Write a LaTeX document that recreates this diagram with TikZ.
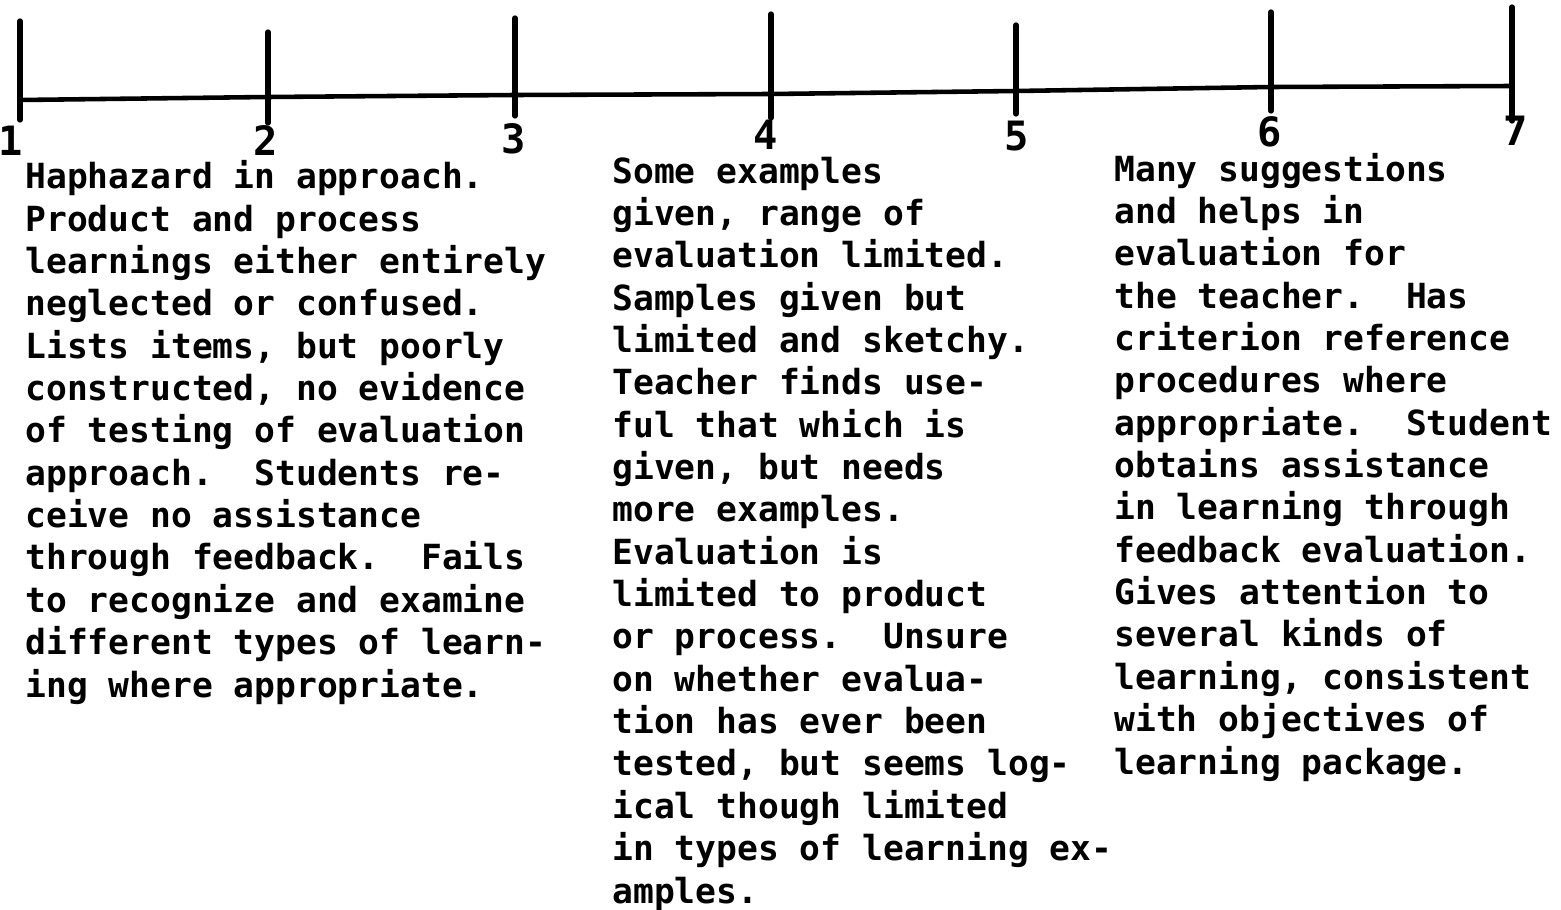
\documentclass[tikz,border=0pt]{standalone}
\usepackage{fontspec}
\setmonofont{DejaVu Sans Mono}
\usetikzlibrary{positioning}

\tikzset{
  tick/.style={line width=3pt, line cap=round},
  axisline/.style={line width=2.6pt},
  num/.style={font=\ttfamily\bfseries\fontsize{23pt}{26pt}\selectfont, inner sep=0pt},
  desc/.style={font=\ttfamily\bfseries\frenchspacing\fontsize{19.7pt}{24.1pt}\selectfont, align=left, inner sep=0pt, anchor=base west}
}

\begin{document}
\begin{tikzpicture}[x=0.02cm, y=-0.02cm]
            \useasboundingbox (0,0) rectangle (1561,909);

            % points on the scale
            \coordinate (a1) at (20,100);
            \coordinate (a2) at (268,97);
            \coordinate (a3) at (515,95);
            \coordinate (a4) at (771,94);
            \coordinate (a5) at (1016,91);
            \coordinate (a6) at (1271,87);
            \coordinate (a7) at (1512,86);

            \draw[axisline] (a1) -- (a2) -- (a3) -- (a4) -- (a5) -- (a6) -- (a7);

            \draw[tick] (20,21) -- (20,120);
            \draw[tick] (268,32) -- (268,123);
            \draw[tick] (515,18) -- (515,116);
            \draw[tick] (771,14) -- (771,118);
            \draw[tick] (1016,25) -- (1016,114);
            \draw[tick] (1271,12) -- (1271,111);
            \draw[tick] (1512,7) -- (1512,121);

            \node[num] (n1) at (11,141) {1};
            \node[num] (n2) at (266,141) {2};
            \node[num] (n3) at (514,139) {3};
            \node[num] (n4) at (766,135) {4};
            \node[num] (n5) at (1017,136) {5};
            \node[num] (n6) at (1270,132) {6};
            \node[num] (n7) at (1516,131) {7};

            % anchored at the baseline of the last line
            \node[desc] (low) at (25,697) {Haphazard in approach.\\
Product and process\\
learnings either entirely\\
neglected or confused.\\
Lists items, but poorly\\
constructed, no evidence\\
of testing of evaluation\\
approach.\ \ Students re-\\
ceive no assistance\\
through feedback.\ \ Fails\\
to recognize and examine\\
different types of learn-\\
ing where appropriate.};

            \node[desc] (mid) at (612,903) {Some examples\\
given, range of\\
evaluation limited.\\
Samples given but\\
limited and sketchy.\\
Teacher finds use-\\
ful that which is\\
given, but needs\\
more examples.\\
Evaluation is\\
limited to product\\
or process.\ \ Unsure\\
on whether evalua-\\
tion has ever been\\
tested, but seems log-\\
ical though limited\\
in types of learning ex-\\
amples.};

            \node[desc] (high) at (1114,774) {Many suggestions\\
and helps in\\
evaluation for\\
the teacher.\ \ Has\\
criterion reference\\
procedures where\\
appropriate.\ \ Student\\
obtains assistance\\
in learning through\\
feedback evaluation.\\
Gives attention to\\
several kinds of\\
learning, consistent\\
with objectives of\\
learning package.};
        \end{tikzpicture}
\end{document}
